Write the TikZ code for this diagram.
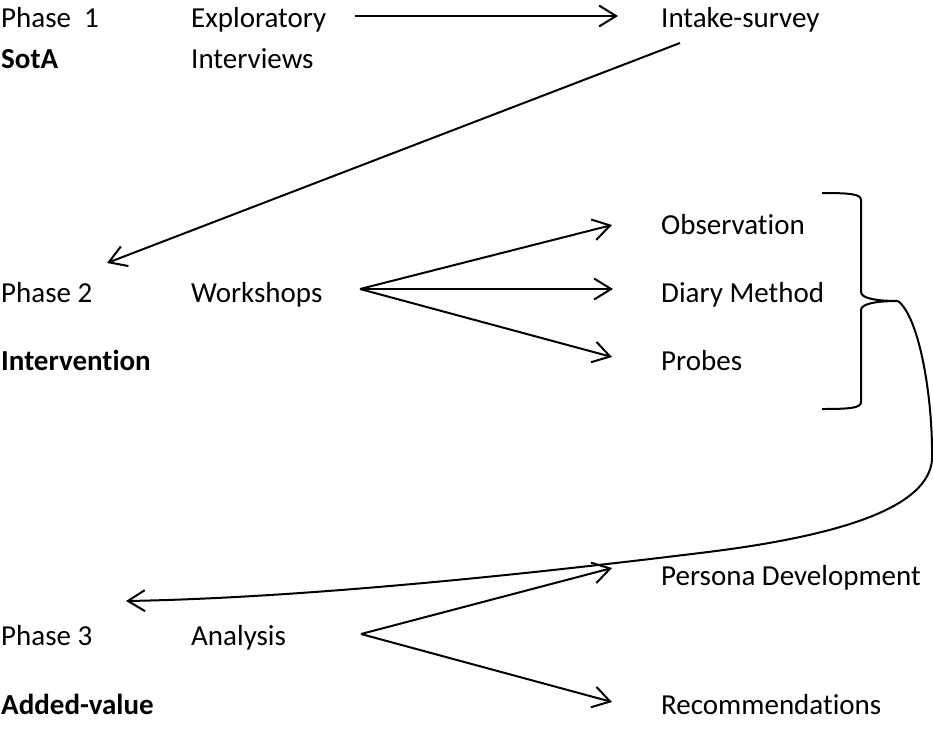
\documentclass[tikz,border=0pt]{standalone}
\usepackage{fontspec}
\setmainfont{Carlito}[Ligatures=NoCommon]
\usetikzlibrary{arrows.meta,positioning}

\tikzset{
  lbl/.style={anchor=base west, inner sep=0pt, font=\fontsize{29}{35}\selectfont},
  bold/.style={lbl, font=\fontsize{29}{35}\selectfont\bfseries},
  flow/.style={line width=2pt, -{Straight Barb[length=17pt,width=21pt,line width=2pt]}},
}

\begin{document}
\begin{tikzpicture}[x=1pt, y=-1pt]
  \useasboundingbox (0,0) rectangle (933,729);

  % phase column
  \node[lbl]  (ph1) at (1,27)  {Phase~~1};
  \node[bold] (sota) at (1,68) {SotA};
  \node[lbl]  (ph2) at (1,302) {Phase 2};
  \node[bold] (interv) at (1,370) {Intervention};
  \node[lbl]  (ph3) at (1,645) {Phase 3};
  \node[bold] (added) at (1,714) {Added-value};

  % method column
  \node[lbl] (explor) at (191,27) {Exploratory};
  \node[lbl] (interviews) at (191,68) {Interviews};
  \node[lbl] (works) at (191,302) {Workshops};
  \node[lbl] (analysis) at (191,645) {Analysis};

  % result column
  \node[lbl] (intake) at (661,27) {Intake-survey};
  \node[lbl] (obs) at (661,234) {Observation};
  \node[lbl] (diary) at (661,302) {Diary Method};
  \node[lbl] (probes) at (661,370) {Probes};
  \node[lbl] (persona) at (661,585) {Persona Development};
  \node[lbl] (recom) at (661,714) {Recommendations};

  % arrow ends
  \coordinate (e1) at (355,16);
  \coordinate (i1) at (618,16);
  \coordinate (i2) at (680,43);
  \coordinate (p2) at (107,263);
  \coordinate (w0) at (360,289);
  \coordinate (o1) at (612,225);
  \coordinate (d1) at (613,289);
  \coordinate (b1) at (612,357);
  \coordinate (a0) at (361,634);
  \coordinate (c1) at (612,568);
  \coordinate (r1) at (612,702);
  \coordinate (tip) at (898,301);
  \coordinate (p3) at (126,601);

  \draw[flow] (e1) -- (i1);
  \draw[flow] (i2) -- (p2);

  \draw[flow] (w0) -- (o1);
  \draw[flow] (w0) -- (d1);
  \draw[flow] (w0) -- (b1);

  % brace round the three methods
  \draw[line width=2pt] (822,193) .. controls (850,193) and (861,194) .. (861,200)
    -- (861,292) .. controls (861,298) and (875,301) .. (tip)
    .. controls (875,301) and (861,304) .. (861,310)
    -- (861,402) .. controls (861,408) and (850,409) .. (822,409);

  \draw[flow] (tip) .. controls (920,318) and (933,400) .. (932,460)
    .. controls (928,505) and (850,535) .. (700,553)
    .. controls (520,575) and (300,598) .. (p3);

  \draw[flow] (a0) -- (c1);
  \draw[flow] (a0) -- (r1);
\end{tikzpicture}
\end{document}
